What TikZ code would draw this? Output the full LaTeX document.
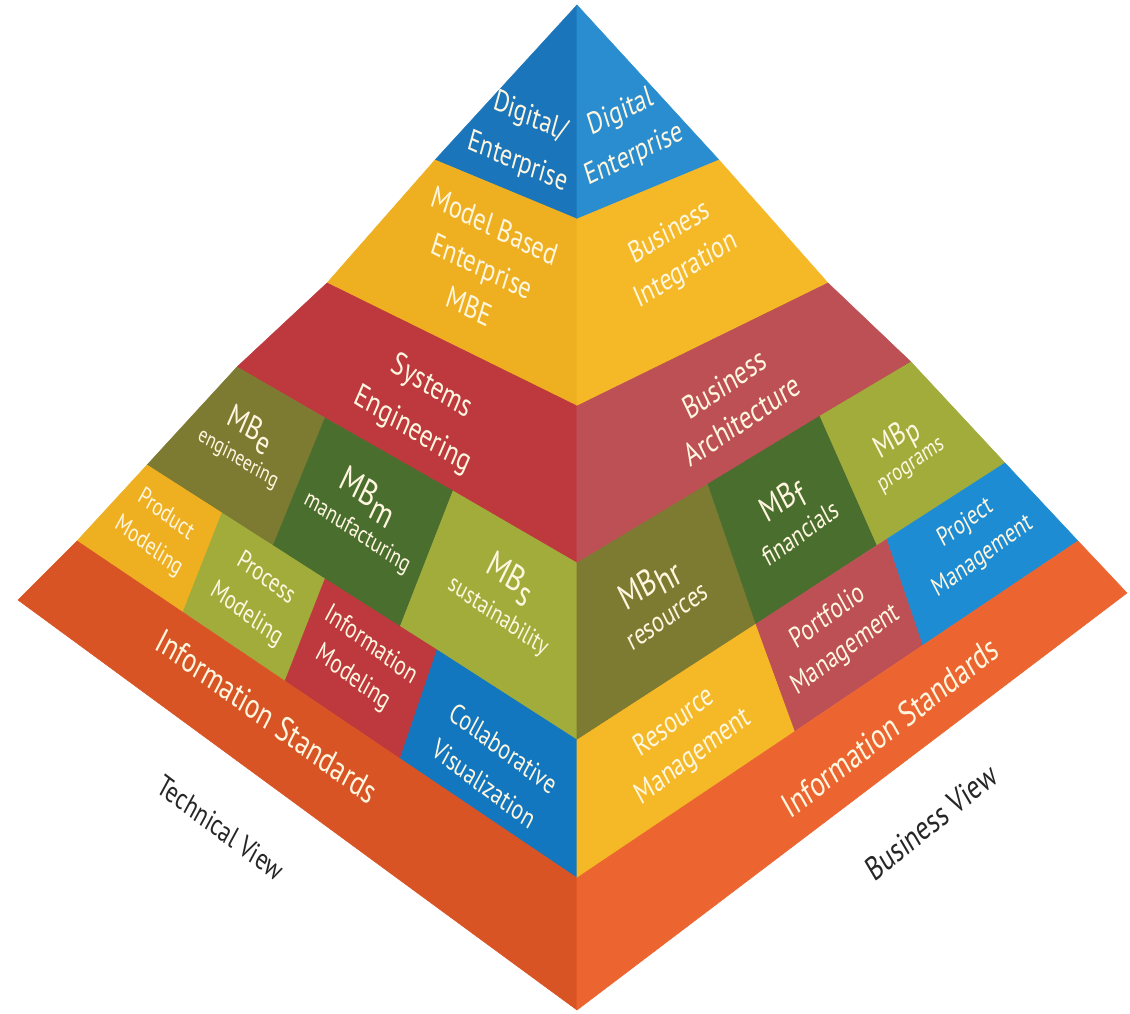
\documentclass[tikz,border=0pt]{standalone}
\usepackage{fontspec}
\setmainfont{PT Sans}
\definecolor{blueL}{HTML}{1A75BA}
\definecolor{blueR}{HTML}{2A8DCF}
\definecolor{blueC}{HTML}{1277BF}
\definecolor{blueP}{HTML}{1E8CD3}
\definecolor{yellowL}{HTML}{EEB020}
\definecolor{yellowR}{HTML}{F5B826}
\definecolor{redL}{HTML}{BD393E}
\definecolor{redR}{HTML}{BD5055}
\definecolor{oliveD}{HTML}{7D7A31}
\definecolor{greenD}{HTML}{4A6E2E}
\definecolor{oliveL}{HTML}{A1AC3B}
\definecolor{orangeL}{HTML}{D95424}
\definecolor{orangeR}{HTML}{EC6530}
\definecolor{labelwhite}{HTML}{FFF6E0}
\tikzset{face/.style = {fill=#1, draw=#1, line width=0.4pt, line join=round}}
\tikzset{lbl/.style = {text=labelwhite, align=center, inner sep=0pt}}
\tikzset{techlbl/.style = {lbl, rotate=#1, xslant=-0.15, yscale=1.2}}
\tikzset{buslbl/.style = {lbl, rotate=#1, xslant=0.15, yscale=1.2}}
\tikzset{view/.style = {text=black!85, inner sep=0pt}}
\newcommand{\fsz}[2]{\fontsize{#1}{#2}\selectfont}
\newcommand{\mbsub}[1]{MB\raisebox{-0.45ex}{#1}}

\begin{document}
\begin{tikzpicture}[x=0.75pt, y=-0.75pt]
  \useasboundingbox (0, 0) rectangle (1130, 1013);

  % ridge
  \coordinate (T) at (577, 5);
  \coordinate (rB) at (577, 219);
  \coordinate (rY) at (577, 406);
  \coordinate (rR) at (577, 563);
  \coordinate (rA) at (577, 740);
  \coordinate (C) at (577, 878);
  \coordinate (B) at (577, 1010);
  % left edge
  \coordinate (lB) at (435, 160);
  \coordinate (lY) at (327, 283);
  \coordinate (lR) at (237, 367);
  \coordinate (lA) at (147, 465);
  \coordinate (lP) at (77, 541);
  \coordinate (L) at (18, 600);
  % right edge
  \coordinate (RB) at (719, 160);
  \coordinate (RY) at (828, 283);
  \coordinate (RR) at (911, 362);
  \coordinate (RA) at (1005, 463);
  \coordinate (RP) at (1078, 541);
  \coordinate (R) at (1127, 593);
  % dividers, left face
  \coordinate (d1t) at (325, 418);
  \coordinate (d1b) at (273, 546);
  \coordinate (d2t) at (453, 491);
  \coordinate (d2b) at (400, 627);
  \coordinate (e1t) at (222, 513);
  \coordinate (e1b) at (183, 612);
  \coordinate (e2t) at (325, 579);
  \coordinate (e2b) at (285, 681);
  \coordinate (e3t) at (437, 650);
  \coordinate (e3b) at (400, 759);
  % dividers, right face
  \coordinate (f1t) at (708, 484);
  \coordinate (f1b) at (756, 624);
  \coordinate (f2t) at (820, 416);
  \coordinate (f2b) at (877, 545);
  \coordinate (g1t) at (756, 624);
  \coordinate (g1b) at (795, 731);
  \coordinate (g2t) at (887, 539);
  \coordinate (g2b) at (923, 645);

  % technical face
  \fill [face=blueL] (T) -- (lB) -- (rB) -- cycle;
  \fill [face=yellowL] (lB) -- (lY) -- (rY) -- (rB) -- cycle;
  \fill [face=redL] (lY) -- (lR) -- (rR) -- (rY) -- cycle;
  \fill [face=oliveD] (lR) -- (d1t) -- (d1b) -- (lA) -- cycle;
  \fill [face=greenD] (d1t) -- (d2t) -- (d2b) -- (d1b) -- cycle;
  \fill [face=oliveL] (d2t) -- (rR) -- (rA) -- (d2b) -- cycle;
  \fill [face=yellowL] (lA) -- (e1t) -- (e1b) -- (lP) -- cycle;
  \fill [face=oliveL] (e1t) -- (e2t) -- (e2b) -- (e1b) -- cycle;
  \fill [face=redL] (e2t) -- (e3t) -- (e3b) -- (e2b) -- cycle;
  \fill [face=blueC] (e3t) -- (rA) -- (C) -- (e3b) -- cycle;
  \fill [face=orangeL] (L) -- (lP) -- (C) -- (B) -- cycle;

  % business face
  \fill [face=blueR] (T) -- (rB) -- (RB) -- cycle;
  \fill [face=yellowR] (rB) -- (rY) -- (RY) -- (RB) -- cycle;
  \fill [face=redR] (rY) -- (rR) -- (RR) -- (RY) -- cycle;
  \fill [face=oliveD] (rR) -- (f1t) -- (f1b) -- (rA) -- cycle;
  \fill [face=greenD] (f1t) -- (f2t) -- (f2b) -- (f1b) -- cycle;
  \fill [face=oliveL] (f2t) -- (RR) -- (RA) -- (f2b) -- cycle;
  \fill [face=yellowR] (rA) -- (g1t) -- (g1b) -- (C) -- cycle;
  \fill [face=redR] (g1t) -- (g2t) -- (g2b) -- (g1b) -- cycle;
  \fill [face=blueP] (g2t) -- (RA) -- (RP) -- (g2b) -- cycle;
  \fill [face=orangeR] (C) -- (RP) -- (R) -- (B) -- cycle;

  % labels, technical face
  \node (digL) [techlbl=-24, font=\fsz{18.5}{29}] at (524, 140) {Digital/\\Enterprise};
  \node (mbeTop) [techlbl=-26, font=\fsz{19}{26}] at (482, 266) {Model Based\\Enterprise\\MBE};
  \node (sysEng) [techlbl=-32, font=\fsz{19.5}{29}] at (422, 409) {Systems\\Engineering};
  \node (mbe) [techlbl=-32, font=\fsz{20}{22}] at (250, 430) {\mbsub{e}};
  \node (mbeSub) [techlbl=-32, font=\fsz{13.5}{15}] at (238, 459) {engineering};
  \node (mbm) [techlbl=-34, font=\fsz{22}{24}] at (368, 497) {\mbsub{m}};
  \node (mbmSub) [techlbl=-34, font=\fsz{15}{17}] at (357, 533) {manufacturing};
  \node (mbs) [techlbl=-35, font=\fsz{22}{24}] at (510, 579) {\mbsub{s}};
  \node (mbsSub) [techlbl=-35, font=\fsz{15.5}{17}] at (498, 617) {sustainability};
  \node (prodMod) [techlbl=-37, font=\fsz{15}{22}] at (157, 531) {Product\\Modeling};
  \node (procMod) [techlbl=-37, font=\fsz{16}{25}] at (256, 597) {Process\\Modeling};
  \node (infoMod) [techlbl=-37, font=\fsz{16.5}{23}] at (362, 662) {Information\\Modeling};
  \node (collVis) [techlbl=-37, font=\fsz{17}{25}] at (494, 766) {Collaborative\\Visualization};
  \node (stdL) [techlbl=-36, font=\fsz{21}{24}] at (267, 716) {Information Standards};
  \node (techView) [view, rotate=-37, xslant=-0.15, yscale=1.2, font=\fsz{18}{20}] at (221, 828) {Technical View};

  % labels, business face
  \node (digR) [buslbl=26, font=\fsz{18.5}{27.5}] at (628, 134) {Digital\\Enterprise};
  \node (busInt) [buslbl=32, font=\fsz{18.5}{25}] at (678, 252) {Business\\Integration};
  \node (busArch) [buslbl=34, font=\fsz{19.5}{25}] at (733, 402) {Business\\Architecture};
  \node (mbhr) [buslbl=35, font=\fsz{22}{24}] at (650, 585) {\mbsub{hr}};
  \node (mbhrSub) [buslbl=35, font=\fsz{17.5}{19}] at (668, 618) {resources};
  \node (mbf) [buslbl=36, font=\fsz{21}{23}] at (783, 502) {\mbsub{f}};
  \node (mbfSub) [buslbl=36, font=\fsz{16.5}{18}] at (800, 533) {financials};
  \node (mbp) [buslbl=36, font=\fsz{19}{21}] at (898, 441) {\mbsub{p}};
  \node (mbpSub) [buslbl=36, font=\fsz{14.5}{16}] at (912, 467) {programs};
  \node (resMan) [buslbl=37, font=\fsz{18.5}{24}] at (684, 740) {Resource\\Management};
  \node (portMan) [buslbl=37, font=\fsz{17.5}{23}] at (837, 634) {Portfolio\\Management};
  \node (projMan) [buslbl=36, font=\fsz{16}{23}] at (974, 540) {Project\\Management};
  \node (stdR) [buslbl=38, font=\fsz{21}{24}] at (890, 727) {Information Standards};
  \node (busView) [view, rotate=39, xslant=0.15, yscale=1.2, font=\fsz{20}{22}] at (931, 822) {Business View};
\end{tikzpicture}
\end{document}
